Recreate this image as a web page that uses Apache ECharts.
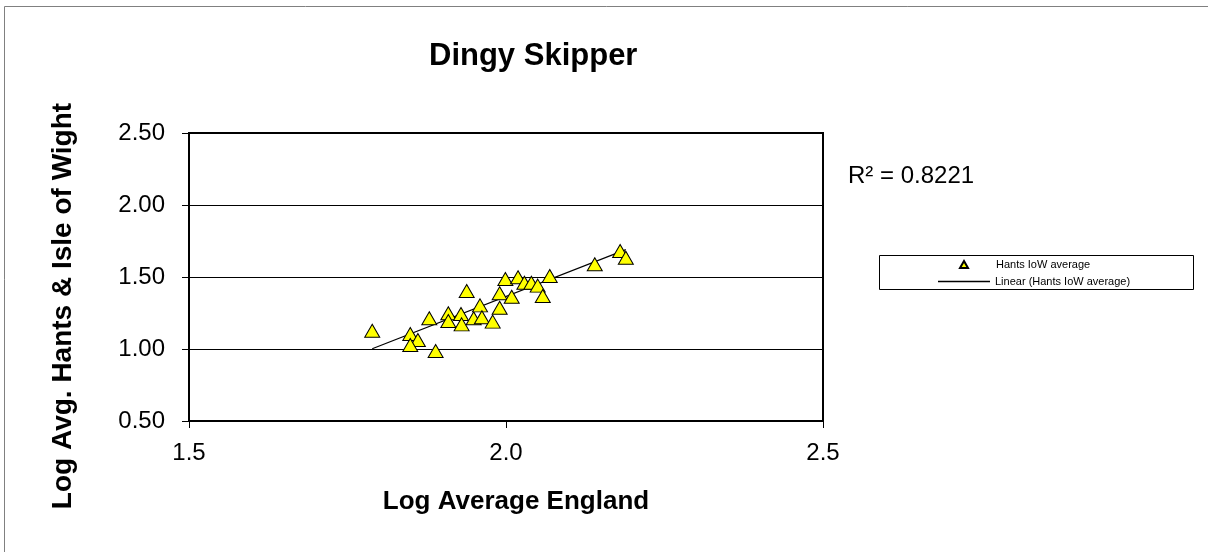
<!doctype html>
<html>
    <head>
        <meta charset="utf-8">
        <style>
            html, body { margin: 0; padding: 0; background: #fff; }
            #main { width: 1208px; height: 552px; }
        </style>
    </head>
    <body>
        <div id="main"></div>
        <script src="https://cdn.jsdelivr.net/npm/echarts@6/dist/echarts.min.js"></script>
        <script>
            // log average England (x) vs log average Hants & IoW (y)
            var logEngland = [1.789, 1.849, 1.861, 1.849, 1.889, 1.879, 1.909, 1.909, 1.929, 1.930,
                              1.938, 1.949, 1.959, 1.962, 1.979, 1.990, 1.990, 2.009, 1.999, 2.019,
                              2.029, 2.040, 2.050, 2.058, 2.069, 2.140, 2.180, 2.189];
            var logHants = [1.127, 1.104, 1.063, 1.028, 0.986, 1.213, 1.248, 1.194, 1.243, 1.171,
                            1.403, 1.213, 1.303, 1.220, 1.190, 1.287, 1.387, 1.363, 1.486, 1.498,
                            1.460, 1.460, 1.440, 1.368, 1.507, 1.588, 1.681, 1.634];
            // trendline end points as drawn
            var trendX = [1.789, 2.189];
            var trendY = [1.002, 1.69];
            var rSquared = '0.8221';

            var font = 'Liberation Sans, Arial, sans-serif';
            var chart = echarts.init(document.getElementById('main'));

            chart.setOption({
                animation: false,
                textStyle: { fontFamily: font },
                title: {
                    text: 'Dingy Skipper',
                    left: 429,
                    top: 41,
                    padding: 0,
                    textStyle: { fontSize: 31, fontWeight: 'bold', color: '#000', fontFamily: font }
                },
                grid: {
                    left: 189, top: 133, right: 385, bottom: 131,
                    show: true, borderColor: '#000', borderWidth: 2, backgroundColor: '#fff'
                },
                legend: [
                    {
                        orient: 'vertical',
                        left: 959,
                        top: 259,
                        padding: 0,
                        itemWidth: 8,
                        itemHeight: 7,
                        icon: 'triangle',
                        textStyle: { fontSize: 11, color: '#000', fontFamily: font, padding: [0, 0, 0, 23] },
                        data: ['Hants IoW average']
                    },
                    {
                        orient: 'vertical',
                        left: 938,
                        top: 276,
                        padding: 0,
                        itemWidth: 52,
                        itemHeight: 1.5,
                        icon: 'rect',
                        textStyle: { fontSize: 11, color: '#000', fontFamily: font },
                        data: ['Linear (Hants IoW average)']
                    }
                ],
                xAxis: {
                    type: 'value',
                    min: 1.5, max: 2.5, interval: 0.5,
                    axisLine: { show: false },
                    axisTick: { show: true, length: 7, lineStyle: { color: '#000' } },
                    axisLabel: {
                        margin: 20, fontSize: 24, color: '#000',
                        formatter: function (v) { return v.toFixed(1); }
                    },
                    splitLine: { show: false }
                },
                yAxis: {
                    type: 'value',
                    min: 0.5, max: 2.5, interval: 0.5,
                    axisLine: { show: false },
                    axisTick: { show: true, length: 7, lineStyle: { color: '#000' } },
                    axisLabel: {
                        margin: 24, fontSize: 24, color: '#000',
                        formatter: function (v) { return v.toFixed(2); }
                    },
                    splitLine: { show: true, lineStyle: { color: '#000', width: 1 } }
                },
                graphic: [
                    {
                        type: 'rect', silent: true, z: -10,
                        shape: { x: 4.5, y: 6.5, width: 1300, height: 700 },
                        style: { fill: 'none', stroke: '#808080', lineWidth: 1 }
                    },
                    {
                        type: 'rect', silent: true, z: 0,
                        shape: { x: 879.5, y: 255.5, width: 314, height: 34 },
                        style: { fill: '#fff', stroke: '#000', lineWidth: 1 }
                    },
                    {
                        type: 'text', silent: true,
                        x: 63, y: 306, rotation: Math.PI / 2,
                        style: {
                            text: 'Log Avg. Hants & Isle of Wight',
                            font: 'bold 28px ' + font,
                            fill: '#000', align: 'center', verticalAlign: 'middle'
                        }
                    },
                    {
                        type: 'text', silent: true,
                        x: 516, y: 502,
                        style: {
                            text: 'Log Average England',
                            font: 'bold 26px ' + font,
                            fill: '#000', align: 'center', verticalAlign: 'middle'
                        }
                    },
                    {
                        type: 'text', silent: true,
                        x: 848, y: 176,
                        style: {
                            text: 'R² = ' + rSquared,
                            font: '24px ' + font,
                            fill: '#000', align: 'left', verticalAlign: 'middle'
                        }
                    }
                ],
                series: [
                    {
                        name: 'Linear (Hants IoW average)',
                        type: 'line',
                        symbol: 'none',
                        z: 2,
                        lineStyle: { color: '#000', width: 1.2 },
                        itemStyle: { color: '#000' },
                        data: trendX.map(function (x, i) { return [x, trendY[i]]; })
                    },
                    {
                        name: 'Hants IoW average',
                        type: 'scatter',
                        symbol: 'triangle',
                        symbolSize: [15, 13],
                        z: 3,
                        itemStyle: { color: '#ffff00', borderColor: '#000', borderWidth: 1, opacity: 1 },
                        data: logEngland.map(function (x, i) { return [x, logHants[i]]; })
                    }
                ]
            });

            window.onresize = chart.resize;
        </script>
    </body>
</html>
